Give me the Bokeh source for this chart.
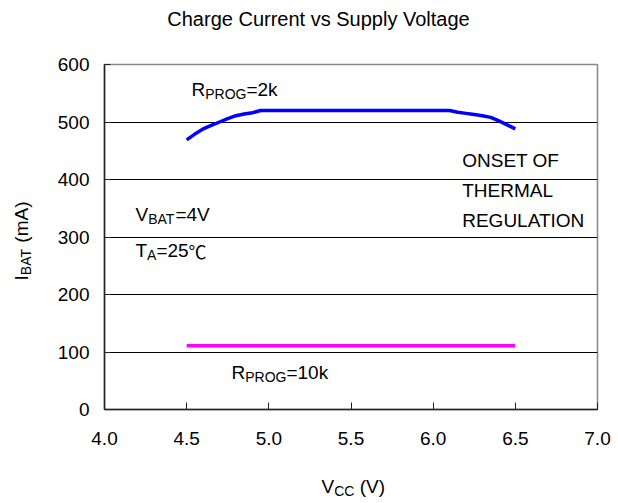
import math
from bokeh.plotting import figure
from bokeh.models import Label, FixedTicker
from bokeh.embed import file_html
from bokeh.resources import INLINE

# ---- data ----
vcc_2k = [4.50, 4.55, 4.60, 4.65, 4.70, 4.75, 4.80, 4.85, 4.90, 4.95, 5.00,
          5.25, 5.50, 5.75, 6.00, 6.10, 6.15, 6.20, 6.25, 6.30, 6.35, 6.40, 6.45, 6.50]
ibat_2k = [469, 479, 488, 494, 500, 506, 511, 514, 516, 520, 520,
           520, 520, 520, 520, 520, 517, 515, 513, 511, 508, 502, 495, 488]
vcc_10k = [4.5, 5.0, 5.5, 6.0, 6.5]
ibat_10k = [111, 111, 111, 111, 111]
x_ticks = [4.0, 4.5, 5.0, 5.5, 6.0, 6.5, 7.0]
x_tick_labels = ["4.0", "4.5", "5.0", "5.5", "6.0", "6.5", "7.0"]
y_ticks = [0, 100, 200, 300, 400, 500, 600]
y_tick_labels = ["0", "100", "200", "300", "400", "500", "600"]

FONT = "Liberation Sans"

p = figure(width=612, height=500, x_range=(4, 7), y_range=(0, 600),
           output_backend="svg", toolbar_location=None, title=None,
           min_border_left=104, min_border_right=15, min_border_top=64,
           min_border_bottom=91)
p.background_fill_color = "white"
p.border_fill_color = "white"
p.outline_line_color = "#888888"
p.outline_line_width = 1.5

# axes
p.xaxis.ticker = FixedTicker(ticks=x_ticks)
p.xaxis.major_label_overrides = {t: l for t, l in zip(x_ticks, x_tick_labels)}
p.yaxis.ticker = FixedTicker(ticks=y_ticks)
p.yaxis.major_label_overrides = {t: l for t, l in zip(y_ticks, y_tick_labels)}
for ax in (p.xaxis, p.yaxis):
    ax.axis_line_color = "#222222"
    ax.axis_line_width = 1.5
    ax.major_tick_line_color = "#222222"
    ax.major_tick_out = 0
    ax.minor_tick_line_color = None
    ax.major_label_text_font = FONT
    ax.major_label_text_font_size = "19px"
    ax.major_label_text_color = "black"
p.xaxis.major_tick_in = 7
p.yaxis.major_tick_in = 6
p.xaxis.major_label_standoff = 22
p.yaxis.major_label_standoff = 15
p.xgrid.grid_line_color = None
p.ygrid.ticker = FixedTicker(ticks=[100, 200, 300, 400, 500])
p.ygrid.grid_line_color = "black"
p.ygrid.grid_line_width = 1

# lines
p.line(vcc_2k, ibat_2k, line_color="#0000FF", line_width=3.5)
p.line(vcc_10k, ibat_10k, line_color="#FF00FF", line_width=3.5)

# pixel->data helpers (canvas coords); labels render ~8px below their anchor
SHIFT = 8

def dx(px):
    return 4 + (px - 104) / 164.33

def dy(py):
    return (409 - (py - SHIFT)) / 0.575


def lab(x, y, text, size, xo=0, yo=0, align="left", angle=0, place=None, font=FONT):
    l = Label(x=x, y=y, text=text, x_offset=xo, y_offset=yo,
              text_font=font, text_font_size=f"{size}px",
              text_color="black", text_align=align,
              text_baseline="alphabetic", angle=angle)
    if place is None:
        p.add_layout(l)
    else:
        p.add_layout(l, place)

M, S = 19, 14  # main / subscript font sizes

def subtext(px, py, parts):
    x, y = dx(px), dy(py)
    off = 0
    for t, sub, w, place in parts:
        lab(x, y, t, S if sub else M, xo=off, yo=-4.5 if sub else 0, place=place)
        off += w

# title (outside the frame -> side panel so it is not clipped)
lab(dx(318), dy(26.7), "Charge Current vs Supply Voltage", 20, align="center", place="above")

# annotations inside the plot area
subtext(191, 96.7, [("R", False, 13.7, None), ("PROG", True, 41.2, None), ("=2k", False, 0, None)])
subtext(231, 380, [("R", False, 13.7, None), ("PROG", True, 41.2, None), ("=10k", False, 0, None)])
subtext(135, 221.7, [("V", False, 12.7, None), ("BAT", True, 27.2, None), ("=4V", False, 0, None)])
subtext(135, 258.3, [("T", False, 11.6, None), ("A", True, 9.3, None), ("=25", False, 0, None)])
lab(dx(135 + 11.6 + 9.3 + 32.2), dy(258.3), "\u2103", 18, font="Noto Sans CJK SC")
lab(dx(461.7), dy(168), "ONSET OF", M)
lab(dx(461.7), dy(198), "THERMAL", M)
lab(dx(461.7), dy(228.3), "REGULATION", M)

# x axis label  V_CC (V)  (pieces spread over side panels with spare room)
subtext(321, 494, [("V", False, 12.7, "below"), ("CC", True, 20.2 + 5.3, "above"),
                   ("(V)", False, 0, "above")])

# y axis label  I_BAT (mA), rotated (baseline shift acts horizontally here)
yx, yy = dx(29 - SHIFT), (409 - 280) / 0.575
lab(yx, yy, "I", M, angle=math.pi / 2, place="left")
lab(yx, yy, "BAT", S, xo=4.5, yo=5.3, angle=math.pi / 2, place="below")
lab(yx, yy, "(mA)", M, yo=5.3 + 27.2 + 5.3, angle=math.pi / 2, place="left")

open("out.html", "w").write(file_html(p, INLINE))
